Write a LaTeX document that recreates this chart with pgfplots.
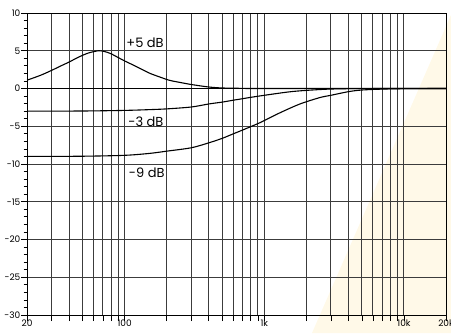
\documentclass[border=0pt]{standalone}
\usepackage{fontspec}
\setmainfont{Poppins}
\usepackage{pgfplots}
\pgfplotsset{compat=1.18}

\definecolor{cream}{RGB}{255,249,232}
\definecolor{gridgray}{RGB}{60,60,60}

\begin{document}
\begin{tikzpicture}
% page size: 451 x 333, axis box from (27,13) to (446,315) in image pixels
\path[use as bounding box] (-27pt,-18pt) rectangle (424pt,315pt);
\fill[cream] (285pt,-18pt) -- (424pt,-18pt) -- (424pt,300pt) -- cycle;

\begin{axis}[
    scale only axis,
    width=419pt, height=302pt,
    xmode=log,
    xmin=20, xmax=20000,
    ymin=-30, ymax=10,
    xtick={20,30,40,50,60,70,80,90,100,200,300,400,500,600,700,800,900,
           1000,2000,3000,4000,5000,6000,7000,8000,9000,10000,20000},
    xticklabels={20,,,,,,,,100,,,,,,,,,1k,,,,,,,,,10k,20k},
    minor xtick={},
    ytick={-30,-25,-20,-15,-10,-5,0,5,10},
    yticklabels={-30,-25,-20,-15,-10,-5,0,5,10},
    minor y tick num=4,
    xtick pos=lower, ytick pos=left,
    tick align=outside,
    major tick length=6pt,
    minor tick length=3.5pt,
    tick style={black, line width=0.8pt},
    grid=major,
    major grid style={gridgray, line width=1pt},
    axis line style={black, line width=1pt},
    ticklabel style={font=\fontsize{9}{9}\selectfont},
    xticklabel style={inner sep=0.5pt, yshift=1.5pt},
    yticklabel style={inner sep=1pt, xshift=0.5pt},
    clip=false,
]

% 0 dB reference
\addplot[black, line width=1.6pt] coordinates {(20,0) (20000,0)};

% +5 dB bell
\addplot[black, line width=1.1pt, smooth] coordinates {
    (20,1.1) (25,1.75) (30,2.4) (35,3.0) (40,3.5) (45,4.0) (50,4.4)
    (55,4.7) (60,4.88) (65,5.0) (70,4.95) (75,4.8) (80,4.6) (90,4.1)
    (100,3.65) (120,2.95) (150,2.05) (180,1.5) (210,1.08) (250,0.8)
    (300,0.53) (400,0.2) (500,0.07) (700,0.02) (1000,0) (20000,0)
};

% -3 dB shelf
\addplot[black, line width=1.1pt, smooth] coordinates {
    (20,-3.0) (50,-2.98) (100,-2.9) (150,-2.8) (200,-2.7) (300,-2.45)
    (400,-2.05) (500,-1.8) (600,-1.55) (700,-1.35) (800,-1.17)
    (1000,-0.9) (1500,-0.45) (2000,-0.25) (3000,-0.07) (5000,-0.01)
    (20000,0)
};

% -9 dB shelf
\addplot[black, line width=1.1pt, smooth] coordinates {
    (20,-9.0) (50,-8.97) (100,-8.85) (150,-8.6) (200,-8.3) (300,-7.85)
    (400,-7.2) (500,-6.6) (600,-6.0) (700,-5.5) (800,-5.05) (900,-4.65)
    (1000,-4.25) (1300,-3.2) (1800,-2.05) (2500,-1.2) (3000,-0.9)
    (4000,-0.42) (5000,-0.2) (7000,-0.08) (10000,-0.02) (20000,0)
};

\node[font=\fontsize{13}{14}\selectfont] at (axis cs:140,6.0) {+5 dB};
\node[font=\fontsize{13}{14}\selectfont] at (axis cs:142,-4.4) {-3 dB};
\node[font=\fontsize{13}{14}\selectfont] at (axis cs:144,-11.1) {-9 dB};

\end{axis}
\end{tikzpicture}
\end{document}
